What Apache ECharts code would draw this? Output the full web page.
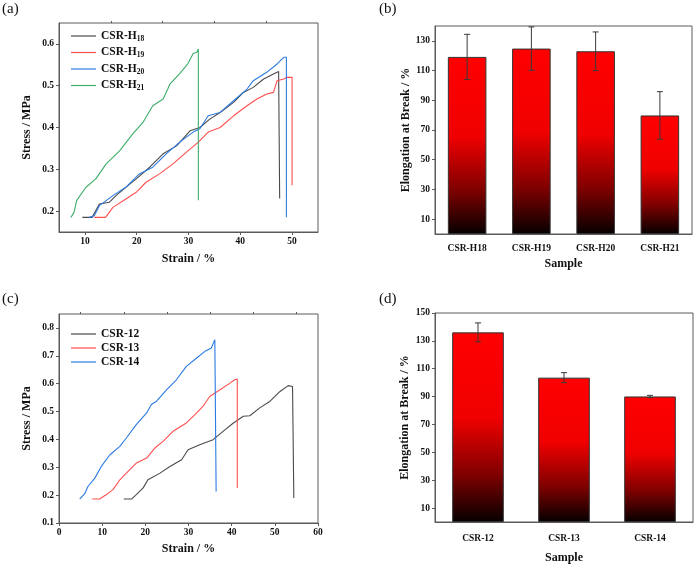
<!DOCTYPE html>
<html><head><meta charset="utf-8">
<script src="https://cdn.jsdelivr.net/npm/echarts@6/dist/echarts.min.js"></script>
<style>html,body{margin:0;padding:0;background:#fff}#c{width:696px;height:565px}</style>
</head><body><div id="c"></div>
<script>
// ---------- Panel (a): stress-strain, CSR-H series ----------
const namesA = ['CSR-H18', 'CSR-H19', 'CSR-H20', 'CSR-H21'];
const colorsA = ['#4a4a4a', '#ff4f4f', '#2b7be4', '#3dae6a'];
const curveH18 = [[9.5,0.185],[11.4,0.185],[12.8,0.217],[14.7,0.221],[16.0,0.237],[18.3,0.261],[19.9,0.277],[22.5,0.305],[25.1,0.337],[27.7,0.356],[30.3,0.392],[32.2,0.400],[34.1,0.420],[36.1,0.436],[38.7,0.460],[40.6,0.484],[42.5,0.496],[44.5,0.516],[46.4,0.528],[47.4,0.534],[47.6,0.534],[47.6,0.230]];
const curveH19 = [[11.8,0.185],[14.0,0.185],[15.4,0.209],[17.9,0.229],[19.9,0.245],[21.8,0.269],[24.4,0.289],[27.0,0.313],[29.6,0.341],[31.9,0.365],[33.8,0.389],[36.1,0.400],[38.7,0.428],[41.3,0.452],[43.2,0.468],[45.1,0.480],[46.4,0.484],[47.1,0.512],[48.4,0.516],[49.0,0.520],[50.0,0.520],[50.0,0.262]];
const curveH20 = [[10.8,0.185],[11.8,0.189],[12.8,0.213],[15.4,0.237],[17.9,0.257],[20.5,0.289],[23.1,0.305],[25.7,0.337],[28.3,0.365],[30.9,0.389],[32.2,0.397],[33.8,0.428],[36.1,0.436],[38.7,0.464],[41.3,0.492],[42.5,0.512],[45.1,0.532],[47.1,0.552],[48.4,0.568],[48.9,0.568],[48.9,0.185]];
const curveH21 = [[7.3,0.185],[7.9,0.197],[8.4,0.225],[10.2,0.257],[12.1,0.277],[14.1,0.313],[16.7,0.344],[19.2,0.384],[21.2,0.412],[23.1,0.452],[25.1,0.468],[26.0,0.492],[26.4,0.504],[28.3,0.529],[29.9,0.553],[30.9,0.577],[31.6,0.580],[31.9,0.588],[31.9,0.226]];
const xTicksA = [10, 20, 30, 40, 50];
const xMinorA = [15, 25, 35, 45];
const yTicksA = [0.2, 0.3, 0.4, 0.5, 0.6];

// ---------- Panel (b): elongation at break, CSR-H ----------
const catsB = ['CSR-H18', 'CSR-H19', 'CSR-H20', 'CSR-H21'];
const valsB = [119.2, 124.8, 123.0, 79.8];
const errB = [15.2, 14.6, 13.0, 16.0];
const yTicksB = [10, 30, 50, 70, 90, 110, 130];

// ---------- Panel (c): stress-strain, CSR-12..14 ----------
const namesC = ['CSR-12', 'CSR-13', 'CSR-14'];
const colorsC = ['#4a4a4a', '#ff4f4f', '#2b7be4'];
const curve12 = [[15.0,0.186],[16.8,0.186],[17.9,0.202],[19.5,0.226],[20.6,0.255],[23.4,0.279],[25.7,0.303],[28.4,0.327],[29.9,0.363],[32.6,0.381],[35.7,0.399],[38.0,0.429],[40.4,0.459],[42.7,0.483],[44.2,0.485],[46.5,0.513],[48.9,0.537],[51.2,0.572],[53.1,0.593],[54.1,0.590],[54.4,0.590],[54.4,0.190]];
const curve13 = [[7.7,0.186],[9.4,0.186],[11.0,0.202],[12.5,0.220],[14.1,0.255],[16.0,0.285],[17.9,0.315],[20.3,0.333],[22.2,0.369],[24.1,0.393],[26.4,0.429],[29.5,0.459],[31.5,0.489],[33.4,0.519],[34.9,0.554],[37.3,0.578],[39.6,0.602],[40.7,0.614],[41.3,0.617],[41.3,0.226]];
const curve14 = [[4.8,0.186],[5.96,0.205],[6.7,0.231],[8.3,0.261],[9.8,0.303],[11.8,0.345],[14.1,0.375],[15.6,0.405],[17.9,0.453],[20.3,0.495],[21.4,0.525],[22.6,0.537],[24.9,0.578],[27.2,0.614],[29.5,0.662],[31.9,0.692],[33.8,0.716],[35.3,0.728],[36.1,0.758],[36.4,0.758],[36.4,0.213]];
const xTicksC = [0, 10, 20, 30, 40, 50, 60];
const xMinorC = [5, 15, 25, 35, 45, 55];
const yTicksC = [0.1, 0.2, 0.3, 0.4, 0.5, 0.6, 0.7, 0.8];

// ---------- Panel (d): elongation at break, CSR-12..14 ----------
const catsD = ['CSR-12', 'CSR-13', 'CSR-14'];
const valsD = [136.1, 103.6, 90.1];
const errD = [6.8, 3.6, 0.8];
const yTicksD = [10, 30, 50, 70, 90, 110, 130, 150];

// ---------- styling ----------
const FF = '"Liberation Serif", "Times New Roman", serif';
const FRAME = '#5a5a5a';
const labelStyle = {fontFamily: FF, fontWeight: 'bold', fontSize: 9.5, color: '#111'};
const nameStyle = {fontFamily: FF, fontWeight: 'bold', fontSize: 12, color: '#111'};

const chart = echarts.init(document.getElementById('c'), null, {renderer: 'canvas'});

const grids = [
  {left: 59, top: 23, width: 259, height: 209},
  {left: 435, top: 26, width: 257, height: 208},
  {left: 59, top: 314, width: 259, height: 209},
  {left: 435, top: 313, width: 258, height: 209}
].map(g => Object.assign({show: true, borderColor: FRAME, borderWidth: 1, backgroundColor: 'transparent'}, g));

function valX(grid, min, max, ticks, name, gap) {
  return {type: 'value', gridIndex: grid, min, max, name, nameLocation: 'middle', nameGap: gap,
    nameTextStyle: nameStyle,
    axisLine: {show: true, lineStyle: {color: FRAME}}, splitLine: {show: false},
    axisTick: {show: true, length: 3, customValues: ticks, lineStyle: {color: FRAME}},
    axisLabel: Object.assign({customValues: ticks, margin: 5}, labelStyle)};
}
function minorX(grid, min, max, ticks) {
  return {type: 'value', gridIndex: grid, min, max, show: true,
    axisLine: {show: false}, splitLine: {show: false},
    axisTick: {show: true, length: 2, customValues: ticks, lineStyle: {color: FRAME}},
    axisLabel: {show: false}};
}
function valY(grid, min, max, ticks, name, gap, fmt) {
  return {type: 'value', gridIndex: grid, min, max, name, nameLocation: 'middle', nameGap: gap,
    nameTextStyle: nameStyle,
    axisLine: {show: true, lineStyle: {color: FRAME}}, splitLine: {show: false},
    axisTick: {show: true, length: 3, customValues: ticks, lineStyle: {color: FRAME}},
    axisLabel: Object.assign({customValues: ticks, margin: 5, formatter: fmt}, labelStyle)};
}
function catX(grid, cats, margin, gap) {
  return {type: 'category', gridIndex: grid, data: cats, name: 'Sample', nameLocation: 'middle', nameGap: gap,
    nameTextStyle: nameStyle,
    axisLine: {show: true, lineStyle: {color: FRAME}}, axisTick: {show: false},
    axisLabel: Object.assign({margin}, labelStyle)};
}

const xAxes = [
  valX(0, 5, 55, xTicksA, 'Strain / %', 21),
  catX(1, catsB, 10, 24),
  valX(2, 0, 60, xTicksC, 'Strain / %', 20),
  catX(3, catsD, 12, 30),
  minorX(0, 5, 55, xMinorA),
  minorX(2, 0, 60, xMinorC)
];
const yAxes = [
  valY(0, 0.15, 0.65, yTicksA, 'Stress / MPa', 26, v => v.toFixed(1)),
  valY(1, 0, 140, yTicksB, 'Elongation at Break / %', 23, v => String(Math.round(v))),
  valY(2, 0.1, 0.85, yTicksC, 'Stress / MPa', 26, v => v.toFixed(1)),
  valY(3, 0, 150, yTicksD, 'Elongation at Break / %', 24, v => String(Math.round(v)))
];

function lineSeries(name, data, color, axis) {
  return {type: 'line', name, data, xAxisIndex: axis, yAxisIndex: axis, symbol: 'none',
    lineStyle: {color, width: 1.1}, itemStyle: {color}, animation: false, silent: true};
}
const barGrad = () => new echarts.graphic.LinearGradient(0, 0, 0, 1, [
  {offset: 0, color: '#ff0000'}, {offset: 0.45, color: '#f00000'},
  {offset: 0.75, color: '#800000'}, {offset: 1, color: '#060000'}]);
function barSeries(vals, axis) {
  return {type: 'bar', data: vals, xAxisIndex: axis, yAxisIndex: axis, barWidth: '60%',
    itemStyle: {color: barGrad(), borderColor: '#333', borderWidth: 1}, animation: false, silent: true};
}
function errRender(params, api) {
  const i = api.value(0), v = api.value(1), e = api.value(2);
  const t = api.coord([i, v + e]), b = api.coord([i, v - e]);
  const hw = 3, st = {stroke: '#3a3a3a', lineWidth: 1};
  return {type: 'group', children: [
    {type: 'line', shape: {x1: t[0], y1: t[1], x2: b[0], y2: b[1]}, style: st},
    {type: 'line', shape: {x1: t[0] - hw, y1: t[1], x2: t[0] + hw, y2: t[1]}, style: st},
    {type: 'line', shape: {x1: b[0] - hw, y1: b[1], x2: b[0] + hw, y2: b[1]}, style: st}
  ]};
}
function errSeries(vals, errs, axis) {
  return {type: 'custom', xAxisIndex: axis, yAxisIndex: axis, z: 5, renderItem: errRender,
    data: vals.map((v, i) => [i, v, errs[i]]), animation: false, silent: true};
}

const curvesA = [curveH18, curveH19, curveH20, curveH21];
const curvesC = [curve12, curve13, curve14];
const series = [
  ...namesA.map((n, i) => lineSeries(n, curvesA[i], colorsA[i], 0)),
  barSeries(valsB, 1), errSeries(valsB, errB, 1),
  ...namesC.map((n, i) => lineSeries(n, curvesC[i], colorsC[i], 2)),
  barSeries(valsD, 3), errSeries(valsD, errD, 3)
];

const legendText = {fontFamily: FF, fontWeight: 'bold', fontSize: 11.5, color: '#111',
  rich: {m: {fontFamily: FF, fontWeight: 'bold', fontSize: 11.5, color: '#111'},
         s: {fontFamily: FF, fontWeight: 'bold', fontSize: 7.5, color: '#111', padding: [6, 0, 0, 0]}}};

chart.setOption({
  animation: false,
  backgroundColor: '#fff',
  grid: grids,
  xAxis: xAxes,
  yAxis: yAxes,
  legend: [
    {data: namesA.map((n, i) => ({name: n, icon: 'rect', itemStyle: {color: colorsA[i]}})),
     orient: 'vertical', left: 66, top: 25, itemWidth: 25, itemHeight: 1.2, itemGap: 3.5,
     textStyle: legendText,
     formatter: n => { const m = n.match(/^(CSR-H)(\d+)$/); return '{m|' + m[1] + '}{s|' + m[2] + '}'; }},
    {data: namesC.map((n, i) => ({name: n, icon: 'rect', itemStyle: {color: colorsC[i]}})),
     orient: 'vertical', left: 66, top: 323, itemWidth: 25, itemHeight: 1.2, itemGap: 2,
     textStyle: legendText}
  ],
  graphic: [
    {type: 'text', left: 2, top: 2, style: {text: '(a)', font: '15px ' + FF, fill: '#111'}},
    {type: 'text', left: 379, top: 2, style: {text: '(b)', font: '15px ' + FF, fill: '#111'}},
    {type: 'text', left: 2, top: 292, style: {text: '(c)', font: '15px ' + FF, fill: '#111'}},
    {type: 'text', left: 379, top: 292, style: {text: '(d)', font: '15px ' + FF, fill: '#111'}}
  ],
  series
});
</script></body></html>
